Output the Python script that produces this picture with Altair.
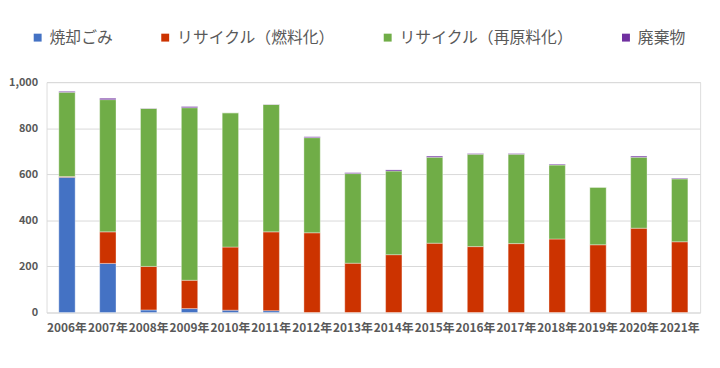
import altair as alt
import pandas as pd

years = [f"{y}年" for y in range(2006, 2022)]
series = ["焼却ごみ", "リサイクル（燃料化）", "リサイクル（再原料化）", "廃棄物"]
colors = ["#4472C4", "#CC3300", "#70AD47", "#7030A0"]

incin = [587, 213, 11, 17, 10, 8, 0, 0, 0, 0, 0, 0, 0, 0, 0, 0]
fuel = [3, 137, 189, 123, 274, 342, 346, 214, 251, 301, 286, 299, 319, 294, 366, 307]
raw = [366, 574, 686, 749, 583, 553, 413, 389, 363, 373, 401, 388, 321, 250, 308, 273]
waste = [4, 6, 1, 5, 0, 1, 4, 4, 5, 5, 3, 3, 4, 0, 5, 3]

rows = []
for i, y in enumerate(years):
    for k, (name, vals) in enumerate(zip(series, [incin, fuel, raw, waste])):
        rows.append({"year": y, "series": name, "value": vals[i], "rank": k})
df = pd.DataFrame(rows)

font = "Noto Sans CJK JP"

chart = alt.Chart(df).mark_bar(stroke="white", strokeWidth=0.6, strokeOpacity=0.6).encode(
    x=alt.X("year:N", sort=years, title=None,
            scale=alt.Scale(paddingInner=0.6, paddingOuter=0.3),
            axis=alt.Axis(labelAngle=0, ticks=False, domain=False, labelPadding=10,
                          labelFontSize=12, labelFontWeight="bold", labelColor="#595959",
                          labelFont=font, grid=False)),
    y=alt.Y("value:Q", stack="zero", title=None,
            scale=alt.Scale(domain=[0, 1000], nice=False),
            axis=alt.Axis(values=[0, 200, 400, 600, 800, 1000], format=",.0f", ticks=False,
                          domain=False, labelPadding=9, labelFontSize=11,
                          labelFontWeight="bold", labelColor="#595959", labelFont=font,
                          gridColor="#D9D9D9", gridWidth=1)),
    color=alt.Color("series:N", sort=series,
                    scale=alt.Scale(domain=series, range=colors),
                    legend=alt.Legend(title=None, orient="none", direction="horizontal",
                                      legendX=-17, legendY=-53, symbolType="square",
                                      symbolSize=64, symbolStrokeWidth=0, labelFontSize=16,
                                      labelColor="#595959", labelFont=font,
                                      labelFontWeight="normal", labelOffset=4,
                                      labelLimit=400, columnPadding=44)),
    order=alt.Order("rank:Q", sort="ascending"),
).properties(
    width=661, height=233,
    autosize=alt.AutoSizeParams(type="none"),
    padding={"left": 39, "top": 73, "right": 12, "bottom": 40},
).configure_view(stroke=None).configure(background="white")

chart.save("out.html", embed_options={"renderer": "svg", "actions": False})
